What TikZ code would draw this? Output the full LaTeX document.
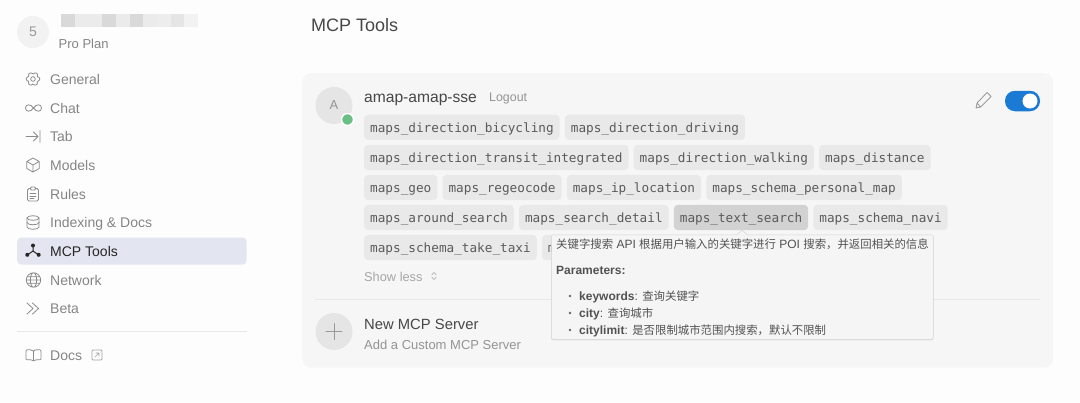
\documentclass[tikz,border=0pt]{standalone}
\usepackage{fontspec}
\setmainfont{Liberation Sans}
\setmonofont{DejaVu Sans Mono}
\newfontfamily\cjk{Noto Sans CJK SC}
\usetikzlibrary{calc,positioning,shadows}
\definecolor{pagebg}{HTML}{FDFDFD}
\definecolor{cardbg}{HTML}{F6F6F6}
\definecolor{chipbg}{HTML}{E9E9E9}
\definecolor{chiphover}{HTML}{D2D2D2}
\definecolor{chiptext}{HTML}{5A5A5A}
\definecolor{sidetext}{HTML}{858585}
\definecolor{icongrey}{HTML}{8C8C8C}
\definecolor{active}{HTML}{E3E5F1}
\definecolor{rulegrey}{HTML}{E8E8E8}
\definecolor{tipbg}{HTML}{F5F5F5}
\definecolor{toggleblue}{HTML}{1A7AD4}
\definecolor{okgreen}{HTML}{6BBF85}
\newcommand{\fsz}[1]{\fontsize{#1}{#1}\selectfont}
\tikzstyle{chip}=[rectangle, rounded corners=4pt, fill=chipbg, text=chiptext, font=\ttfamily\fsz{12.7}, inner ysep=0pt, inner xsep=6pt, minimum height=25.3pt, text height=10pt, text depth=0pt, anchor=west]
\tikzstyle{label}=[inner sep=0pt, text height=10pt, text depth=0pt, anchor=west]
\tikzstyle{sideitem}=[label, text=sidetext, font=\fsz{14}]
\tikzstyle{tiptext}=[label, text height=9pt, text=black!68, font=\fsz{12}]
\tikzstyle{icon}=[draw=icongrey, line width=.8pt, line join=round, line cap=round]
\tikzstyle{disc}=[circle, inner sep=0pt, minimum size=37pt]
\newcommand{\chipgap}{4.8pt}
\newcommand{\zh}[1]{{\cjk\fsz{11.4}#1}}
\begin{document}
\begin{tikzpicture}[x=1pt,y=-1pt]
        \useasboundingbox (0,0) rectangle (1080,402);
        \fill[pagebg] (0,0) rectangle (1080,402);
        % sidebar
        \node[disc, minimum size=32pt, fill=black!5, text=black!40, font=\fsz{14}] (avatar) at (33,32) {5};
        \foreach \i/\c in {0/15,1/8,2/8,3/15,4/8,5/15,6/8,7/7,8/10,9/5}
            \fill[black!\c] (61+13.7*\i,14) rectangle ++(13.7,13);
        \node[label, text=sidetext, font=\fsz{13}] (plan) at (58.5,43) {Pro Plan};
        \node[rectangle, rounded corners=4pt, fill=active, minimum width=229.5pt, minimum height=27pt, inner sep=0pt, anchor=west] (activerow) at (17,251) {};
        \foreach \y/\lab [count=\i] in {79/General,108/Chat,136.5/Tab,165/Models,194/Rules,222.5/Indexing \& Docs,280/Network,308.5/Beta,355/Docs}
        {%
            \node[sideitem] (side\i) at (50,\y) {\lab};%
        }
        \node[sideitem, text=black!85] (sidemcp) at (50,251) {MCP Tools};
        \draw[rulegrey] (17,331.5) -- (246.5,331.5);
        % sidebar icons
        \begin{scope}[shift={(33,79)}]
            \draw[icon] (0,0) circle (2.3);
            \foreach \a in {0,60,...,300}
                \draw[icon, rounded corners=.8pt] (\a-24:5.2) -- (\a-12:6.8) -- (\a+12:6.8) -- (\a+24:5.2) -- (\a+36:5.2);
        \end{scope}
        \begin{scope}[shift={(33.5,108)}]
            \draw[icon] (0,0) .. controls (-3,-4.5) and (-8,-4) .. (-8,0) .. controls (-8,4) and (-3,4.5) .. (0,0) .. controls (3,-4.5) and (8,-4) .. (8,0) .. controls (8,4) and (3,4.5) .. (0,0);
        \end{scope}
        \begin{scope}[shift={(33,136.5)}]
            \draw[icon] (-7,0) -- (5,0) (0.5,-4.5) -- (5,0) -- (0.5,4.5) (7,-6) -- (7,6);
        \end{scope}
        \begin{scope}[shift={(33,165)}]
            \draw[icon] (0,-7) -- (6.2,-3.5) -- (6.2,3.5) -- (0,7) -- (-6.2,3.5) -- (-6.2,-3.5) -- cycle (-6.2,-3.5) -- (0,0) -- (6.2,-3.5) (0,0) -- (0,7);
        \end{scope}
        \begin{scope}[shift={(33,194)}]
            \draw[icon, rounded corners=1.5pt] (-5.5,-5.5) rectangle (5.5,7);
            \draw[icon, fill=pagebg, rounded corners=1pt] (-2.5,-7) rectangle (2.5,-4);
            \draw[icon] (-3,-1) -- (3,-1) (-3,2) -- (3,2) (-3,4.5) -- (1,4.5);
        \end{scope}
        \begin{scope}[shift={(33,222.5)}]
            \draw[icon] (0,-4.5) ellipse (6 and 2.2);
            \draw[icon] (-6,-4.5) -- (-6,4.5) arc[start angle=180, end angle=360, x radius=6, y radius=-2.2] -- (6,-4.5);
            \draw[icon] (-6,0) arc[start angle=180, end angle=360, x radius=6, y radius=-2.2];
        \end{scope}
        \begin{scope}[shift={(33,251)}]
            \draw[black!85, line width=1pt] (0,0) -- (0,-5) (0,0) -- (-5,3.5) (0,0) -- (5,3.5);
            \foreach \p in {(0,-5.5),(-5.7,3.8),(5.7,3.8)}
                \fill[black!85] \p circle (2);
        \end{scope}
        \begin{scope}[shift={(33.5,280)}]
            \draw[icon] (0,0) circle (7.2) (-7.2,0) -- (7.2,0) (-6.4,-3.3) -- (6.4,-3.3) (-6.4,3.3) -- (6.4,3.3) (0,0) ellipse (3.2 and 7.2);
        \end{scope}
        \begin{scope}[shift={(33,308.5)}]
            \draw[icon] (-6,-5.5) -- (0,0) -- (-6,5.5) (-0.5,-5.5) -- (5.5,0) -- (-0.5,5.5);
        \end{scope}
        \begin{scope}[shift={(33.5,355)}]
            \draw[icon, rounded corners=1pt] (0,-4) .. controls (-2,-5.5) and (-5,-5.5) .. (-7.5,-5) -- (-7.5,5) .. controls (-5,4.5) and (-2,4.5) .. (0,6) .. controls (2,4.5) and (5,4.5) .. (7.5,5) -- (7.5,-5) .. controls (5,-5.5) and (2,-5.5) .. (0,-4) -- (0,6);
        \end{scope}
        \begin{scope}[shift={(97,355)}]
            \draw[icon, draw=black!35, rounded corners=1pt] (-5,-5) rectangle (5,5);
            \draw[icon, draw=black!35, line width=.6pt] (-2,2) -- (2,-2) (-1.2,-2) -- (2,-2) -- (2,1.2);
        \end{scope}
        % main panel
        \node[label, text=black!72, font=\fsz{18}] (title) at (311,26) {MCP Tools};
        \node[rectangle, rounded corners=9pt, fill=cardbg, minimum width=751pt, minimum height=294.5pt, inner sep=0pt, anchor=north west] (card) at (302,73) {};
        \node[disc, fill=black!10, text=black!42, font=\fsz{13}] (server) at (334,105.5) {A};
        \node[circle, draw=white, line width=1.4pt, inner sep=0pt, minimum size=12pt, fill=okgreen] (status) at (347.5,119.5) {};
        \node[label, text=black!72, font=\fsz{15.6}] (servername) at (364,97) {amap-amap-sse};
        \node[label, text=black!42, font=\fsz{12.4}] (logout) at (489,96.5) {Logout};
        % pencil and toggle
        \begin{scope}[shift={(983,100)}]
            \draw[icon, line width=.7pt] (-7,8) -- (-6,3) -- (4,-7.5) -- (8,-3.5) -- (-2.5,7) -- cycle (-6,3) -- (-2.5,7);
        \end{scope}
        \node[rectangle, rounded corners=10pt, fill=toggleblue, minimum width=35pt, minimum height=20.5pt, inner sep=0pt] (toggle) at (1022.5,101) {};
        \node[circle, fill=white, inner sep=0pt, minimum size=15pt] (knob) at (1030,101) {};
        % tool chips
        \node[chip] (bicycling) at (364,127.3) {maps\_direction\_bicycling};
        \node[chip, right=\chipgap of bicycling] (driving) {maps\_direction\_driving};
        \node[chip] (transit) at (364,157.5) {maps\_direction\_transit\_integrated};
        \node[chip, right=\chipgap of transit] (walking) {maps\_direction\_walking};
        \node[chip, right=\chipgap of walking] (distance) {maps\_distance};
        \node[chip] (geo) at (364,187.5) {maps\_geo};
        \node[chip, right=\chipgap of geo] (regeocode) {maps\_regeocode};
        \node[chip, right=\chipgap of regeocode] (iplocation) {maps\_ip\_location};
        \node[chip, right=\chipgap of iplocation] (personalmap) {maps\_schema\_personal\_map};
        \node[chip] (around) at (364,217.5) {maps\_around\_search};
        \node[chip, right=\chipgap of around] (detail) {maps\_search\_detail};
        \node[chip, fill=chiphover, right=\chipgap of detail] (textsearch) {maps\_text\_search};
        \node[chip, right=\chipgap of textsearch] (navi) {maps\_schema\_navi};
        \node[chip] (taxi) at (364,247.5) {maps\_schema\_take\_taxi};
        \node[chip, right=\chipgap of taxi, text width=18pt, align=left] (hidden) {m};
        \node[label, text=black!35, font=\fsz{12.8}] (showless) at (364,276) {Show less};
        \begin{scope}[shift={(434,276)}]
            \draw[icon, draw=black!35, line width=.6pt] (-2.2,-1.2) -- (0,-3.5) -- (2.2,-1.2) (-2.2,1.2) -- (0,3.5) -- (2.2,1.2);
        \end{scope}
        \draw[rulegrey] (315,299) -- (1040,299);
        \node[disc, fill=black!10] (plus) at (334,331.5) {};
        \draw[icon, draw=black!40, line width=.6pt] ($(plus)+(-8,0)$) -- ($(plus)+(8,0)$) ($(plus)+(0,-8)$) -- ($(plus)+(0,8)$);
        \node[label, text=black!72, font=\fsz{14.8}] (newserver) at (364,324) {New MCP Server};
        \node[label, text=black!42, font=\fsz{13}] (addserver) at (364,344.5) {Add a Custom MCP Server};
        % tooltip
        \node[rectangle, rounded corners=2pt, fill=tipbg, draw=black!17, line width=.5pt, minimum width=382pt, minimum height=104.5pt, inner sep=0pt, anchor=north west, drop shadow={opacity=.18, shadow xshift=0pt, shadow yshift=-1.2pt}] (tooltip) at (551,234.5) {};
        \fill[tipbg] (737,235) -- (742,230) -- (747,235) -- cycle;
        \draw[black!17, line width=.5pt] (737,234.5) -- (742,230) -- (747,234.5);
        \node[tiptext] (tipline) at (556,243.5) {\zh{关键字搜索} API \zh{根据用户输入的关键字进行} POI \zh{搜索，并返回相关的信息}};
        \node[tiptext] (tipparams) at (556,269.5) {\textbf{Parameters:}};
        \foreach \y/\key/\desc [count=\i] in {296/keywords/查询关键字,313/city/查询城市,330/citylimit/是否限制城市范围内搜索，默认不限制}
        {%
            \fill[black!60] (570,\y) circle (1.4);
            \node[tiptext] (tipitem\i) at (579,\y) {\textbf{\key}: \zh{\desc}};%
        }
\end{tikzpicture}
\end{document}
